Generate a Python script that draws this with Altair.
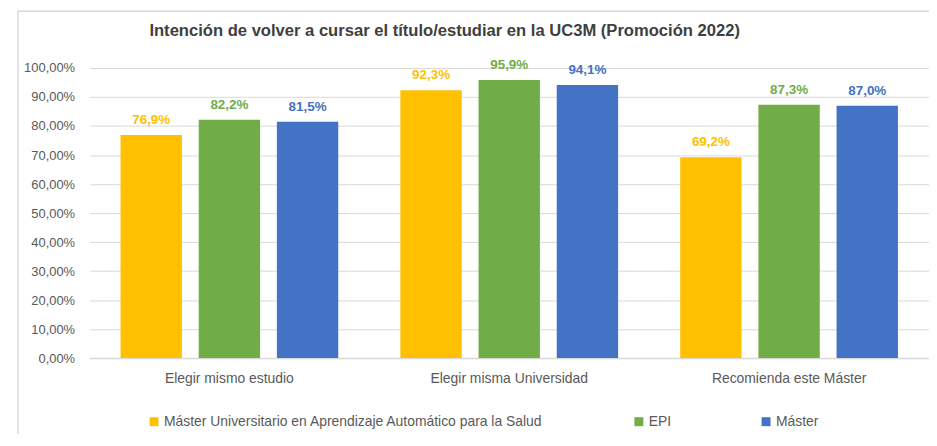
import altair as alt
import pandas as pd

categories = ["Elegir mismo estudio", "Elegir misma Universidad", "Recomienda este Máster"]
series = ["Máster Universitario en Aprendizaje Automático para la Salud", "EPI", "Máster"]
values_mu = [76.9, 92.3, 69.2]
values_epi = [82.2, 95.9, 87.3]
values_master = [81.5, 94.1, 87.0]
colors = ["#FFC000", "#70AD47", "#4472C4"]
y_ticks = [0, 10, 20, 30, 40, 50, 60, 70, 80, 90, 100]
title_text = "Intención de volver a cursar el título/estudiar en la UC3M (Promoción 2022)"

rows = []
for s, vals in zip(series, [values_mu, values_epi, values_master]):
    for c, v in zip(categories, vals):
        rows.append({"categoria": c, "serie": s, "valor": v})
df = pd.DataFrame(rows)

W, H = 845, 292
FONT = "Liberation Sans"
GRAY = "#595959"

color_enc = alt.Color(
    "serie:N",
    sort=series,
    scale=alt.Scale(domain=series, range=colors),
    legend=alt.Legend(
        title=None,
        orient="none",
        legendX=58,
        legendY=349,
        direction="horizontal",
        columns=3,
        columnPadding=88,
        symbolType="square",
        symbolSize=81,
        symbolStrokeWidth=0,
        labelOffset=3,
        labelFontSize=14,
        labelFont=FONT,
        labelColor=GRAY,
        labelLimit=600,
    ),
)

base = alt.Chart(df).encode(
    x=alt.X(
        "categoria:N",
        sort=categories,
        scale=alt.Scale(paddingInner=0.222, paddingOuter=0.111),
        axis=alt.Axis(
            title=None,
            labelAngle=0,
            labelFontSize=14,
            labelFont=FONT,
            labelColor=GRAY,
            labelPadding=14,
            ticks=False,
            tickSize=0,
            domainColor="#d9d9d9",
            domainWidth=1.5,
            grid=False,
        ),
    ),
    xOffset=alt.XOffset(
        "serie:N", sort=series, scale=alt.Scale(paddingInner=0.215, paddingOuter=0)
    ),
    y=alt.Y(
        "valor:Q",
        scale=alt.Scale(domain=[0, 100]),
        axis=alt.Axis(
            title=None,
            values=y_ticks,
            labelExpr="replace(format(datum.value / 100, '.2%'), '.', ',')",
            labelFontSize=13,
            labelFont=FONT,
            labelColor=GRAY,
            labelPadding=15,
            ticks=False,
            tickSize=0,
            domain=False,
            gridColor="#d9d9d9",
            gridWidth=1,
        ),
    ),
    color=color_enc,
)

bars = base.mark_bar()
labels = base.transform_calculate(
    etiqueta="replace(format(datum.valor, '.1f'), '.', ',') + '%'"
).mark_text(
    dy=-15, baseline="middle", fontWeight="bold", fontSize=13.5, font=FONT
).encode(text="etiqueta:N")

border = alt.Chart(pd.DataFrame({"a": [0]})).mark_rect(
    filled=False, stroke="#d9d9d9", strokeWidth=1.5
).encode(
    x=alt.value(-72), x2=alt.value(W + 60), y=alt.value(-57), y2=alt.value(H + 200)
)

chart = alt.layer(border, bars, labels).properties(
    width=W,
    height=H,
    title=alt.TitleParams(
        text=title_text,
        fontSize=16.7,
        fontWeight="bold",
        font=FONT,
        color="#404040",
        anchor="middle",
        frame="group",
        dx=-65,
        offset=-29,
    ),
    autosize=alt.AutoSizeParams(type="none"),
    padding={"left": 82, "top": 59, "right": 0, "bottom": 75},
).configure_view(stroke=None)

chart.save("out.html", embed_options={"renderer": "svg", "actions": False})
